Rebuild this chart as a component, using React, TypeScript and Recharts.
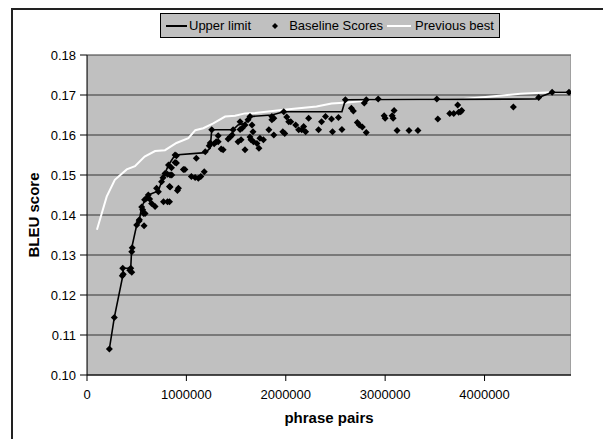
import React from 'react'
import {
  ComposedChart, Line, Scatter, XAxis, YAxis, CartesianGrid, ReferenceArea, Label,
} from 'recharts'

// phrase pairs (x) / BLEU (y)
const upperPairs = [225000, 275000, 360000, 365000, 440000, 450000, 500000, 527000, 550000, 584000, 617000, 718000, 750000, 785000, 820000, 886000, 1190000, 1240000, 1255000, 1470000, 1520000, 1590000, 1640000, 1860000, 1980000, 2565000, 2600000, 4520000, 4545000, 4680000, 4850000]
const upperScores = [0.1065, 0.1144, 0.1248, 0.1267, 0.1267, 0.1318, 0.1375, 0.1388, 0.142, 0.1438, 0.145, 0.146, 0.1483, 0.1504, 0.1525, 0.155, 0.1556, 0.1567, 0.1613, 0.1613, 0.1625, 0.1629, 0.1646, 0.165, 0.1658, 0.1658, 0.1688, 0.169, 0.1694, 0.1707, 0.1707]

const prevPairs = [100000, 198000, 280000, 400000, 483000, 580000, 685000, 785000, 900000, 1020000, 1090000, 1170000, 1270000, 1390000, 1490000, 1590000, 1690000, 1980000, 2310000, 2460000, 2620000, 2900000, 3350000, 3790000, 4360000, 4680000, 4860000]
const prevScores = [0.1363, 0.1446, 0.1488, 0.1514, 0.1522, 0.1546, 0.156, 0.1562, 0.158, 0.1592, 0.1612, 0.1617, 0.1629, 0.1646, 0.1648, 0.1654, 0.1655, 0.1663, 0.1671, 0.1679, 0.1681, 0.1688, 0.1688, 0.169, 0.1703, 0.1707, 0.1707]

const basePairs = [225000, 275000, 355000, 365000, 360000, 430000, 440000, 450000, 450000, 455000, 500000, 527000, 524000, 574000, 550000, 560000, 570000, 584000, 580000, 600000, 617000, 630000, 650000, 685000, 700000, 718000, 750000, 765000, 770000, 810000, 830000, 785000, 810000, 836000, 853000, 820000, 850000, 886000, 900000, 886000, 900000, 830000, 836000, 910000, 920000, 970000, 985000, 1050000, 1088000, 1120000, 1145000, 1180000, 1100000, 1190000, 1230000, 1240000, 1255000, 1280000, 1300000, 1320000, 1350000, 1370000, 1320000, 1420000, 1440000, 1460000, 1520000, 1550000, 1590000, 1470000, 1540000, 1560000, 1540000, 1590000, 1620000, 1640000, 1640000, 1660000, 1670000, 1650000, 1675000, 1710000, 1740000, 1775000, 1730000, 1830000, 1860000, 1880000, 1860000, 1880000, 1970000, 1990000, 1980000, 2010000, 2030000, 2050000, 2100000, 2130000, 2180000, 2160000, 2200000, 2230000, 2330000, 2360000, 2400000, 2460000, 2470000, 2530000, 2565000, 2600000, 2660000, 2680000, 2720000, 2740000, 2770000, 2790000, 2810000, 2810000, 2930000, 2990000, 3000000, 3070000, 3080000, 3090000, 3120000, 3240000, 3330000, 3520000, 3530000, 3650000, 3690000, 3730000, 3740000, 3760000, 3770000, 4290000, 4545000, 4680000, 4850000]
const baseScores = [0.1065, 0.1144, 0.1248, 0.1252, 0.1267, 0.1262, 0.1267, 0.1257, 0.1308, 0.1318, 0.1375, 0.1388, 0.1385, 0.1373, 0.142, 0.1413, 0.1404, 0.1404, 0.1438, 0.1442, 0.145, 0.144, 0.1429, 0.1421, 0.1467, 0.1458, 0.1483, 0.1493, 0.1433, 0.1433, 0.1433, 0.1504, 0.1502, 0.15, 0.15, 0.1525, 0.1518, 0.1531, 0.153, 0.155, 0.1548, 0.1471, 0.147, 0.1461, 0.1467, 0.1514, 0.1514, 0.1496, 0.1494, 0.1492, 0.1496, 0.1508, 0.1542, 0.1558, 0.1573, 0.158, 0.1613, 0.1578, 0.1583, 0.1583, 0.1565, 0.1563, 0.1598, 0.159, 0.1595, 0.16, 0.1583, 0.1588, 0.1563, 0.1613, 0.1614, 0.1617, 0.1633, 0.1625, 0.1638, 0.1646, 0.1595, 0.1625, 0.1608, 0.1588, 0.1583, 0.1579, 0.1592, 0.1588, 0.1567, 0.1613, 0.1646, 0.1642, 0.1638, 0.16, 0.1608, 0.1604, 0.1658, 0.1645, 0.1633, 0.1633, 0.1625, 0.1613, 0.1621, 0.1613, 0.1608, 0.1642, 0.1613, 0.1633, 0.1646, 0.164, 0.1608, 0.1644, 0.1614, 0.1688, 0.1667, 0.166, 0.1631, 0.1625, 0.162, 0.168, 0.1688, 0.1606, 0.169, 0.1648, 0.1642, 0.1648, 0.1642, 0.1661, 0.1611, 0.1611, 0.1611, 0.169, 0.164, 0.1654, 0.1654, 0.1675, 0.1657, 0.1658, 0.1661, 0.167, 0.1694, 0.1707, 0.1707]

const xTicks = [0, 1000000, 2000000, 3000000, 4000000]
const yTicks = [0.10, 0.11, 0.12, 0.13, 0.14, 0.15, 0.16, 0.17, 0.18]

const zip = (xs: number[], ys: number[]) => xs.map((x, i) => ({ x, y: ys[i] }))
const upperData = zip(upperPairs, upperScores)
const prevData = zip(prevPairs, prevScores)
const baseData = zip(basePairs, baseScores)

const font = 'Liberation Sans, Arial, sans-serif'

const Diamond = (props: any) => {
  const { cx, cy } = props
  const r = 3.5
  return <polygon points={`${cx},${cy - r} ${cx + r},${cy} ${cx},${cy + r} ${cx - r},${cy}`} fill="#000" />
}

export default function App() {
  return (
    <div style={{ position: 'absolute', left: 0, top: 0, width: 603, height: 439, overflow: 'hidden', background: '#fff', fontFamily: font }}>
      {/* outer chart frame */}
      <div style={{ position: 'absolute', left: 11, top: 8, width: 640, height: 460, border: '2px solid #222' }} />

      {/* legend */}
      <div style={{
        position: 'absolute', left: 160, top: 13, width: 340, height: 25, boxSizing: 'border-box',
        background: '#C0C0C0', border: '1px solid #000', display: 'flex', alignItems: 'center',
        fontSize: 13, color: '#000', paddingLeft: 5, whiteSpace: 'nowrap',
      }}>
        <span style={{ display: 'inline-block', width: 21, height: 2, background: '#000', marginRight: 2 }} />
        <span>Upper limit</span>
        <svg width={10} height={10} style={{ marginLeft: 19, marginRight: 9 }}>
          <polygon points="5,2 8,5 5,8 2,5" fill="#000" />
        </svg>
        <span>Baseline Scores</span>
        <span style={{ display: 'inline-block', width: 24, height: 2, background: '#fff', marginLeft: 4, marginRight: 4 }} />
        <span>Previous best</span>
      </div>

      <div style={{ position: 'absolute', left: 0, top: 0 }}>
        <ComposedChart width={603} height={439} margin={{ top: 55, right: 32, bottom: 34, left: 0 }}>
          <CartesianGrid vertical={false} stroke="#333" fill="#C0C0C0" fillOpacity={1} />
          <ReferenceArea x1={0} x2={4870000} y1={0.10} y2={0.18} fill="none" stroke="#808080" strokeWidth={1} ifOverflow="hidden" />
          <XAxis
            type="number" dataKey="x" domain={[0, 4870000]} ticks={xTicks} allowDataOverflow
            height={30} tickSize={6} tickMargin={9}
            tick={{ fill: '#000', fontSize: 13, fontFamily: font }}
            axisLine={{ stroke: '#000' }} tickLine={{ stroke: '#000' }}
            tickFormatter={(v: number) => String(v)}
          >
            <Label value="phrase pairs" position="bottom" offset={7} style={{ fontSize: 15, fontWeight: 'bold', fill: '#000', fontFamily: font }} />
          </XAxis>
          <YAxis
            type="number" dataKey="y" domain={[0.10, 0.18]} ticks={yTicks} allowDataOverflow
            width={87} tickSize={7} tickMargin={4}
            tick={{ fill: '#000', fontSize: 13, fontFamily: font }}
            axisLine={{ stroke: '#000' }} tickLine={{ stroke: '#000' }}
            tickFormatter={(v: number) => v.toFixed(2)}
          >
            <Label value="BLEU score" angle={-90} position="insideLeft" offset={34} style={{ fontSize: 15, fontWeight: 'bold', fill: '#000', fontFamily: font, textAnchor: 'middle' }} />
          </YAxis>
          <Line data={prevData} dataKey="y" type="linear" stroke="#fff" strokeWidth={2} dot={false} isAnimationActive={false} />
          <Line data={upperData} dataKey="y" type="linear" stroke="#000" strokeWidth={1.6} dot={false} isAnimationActive={false} />
          <Scatter data={baseData} dataKey="y" shape={Diamond} isAnimationActive={false} />
        </ComposedChart>
      </div>
    </div>
  )
}
